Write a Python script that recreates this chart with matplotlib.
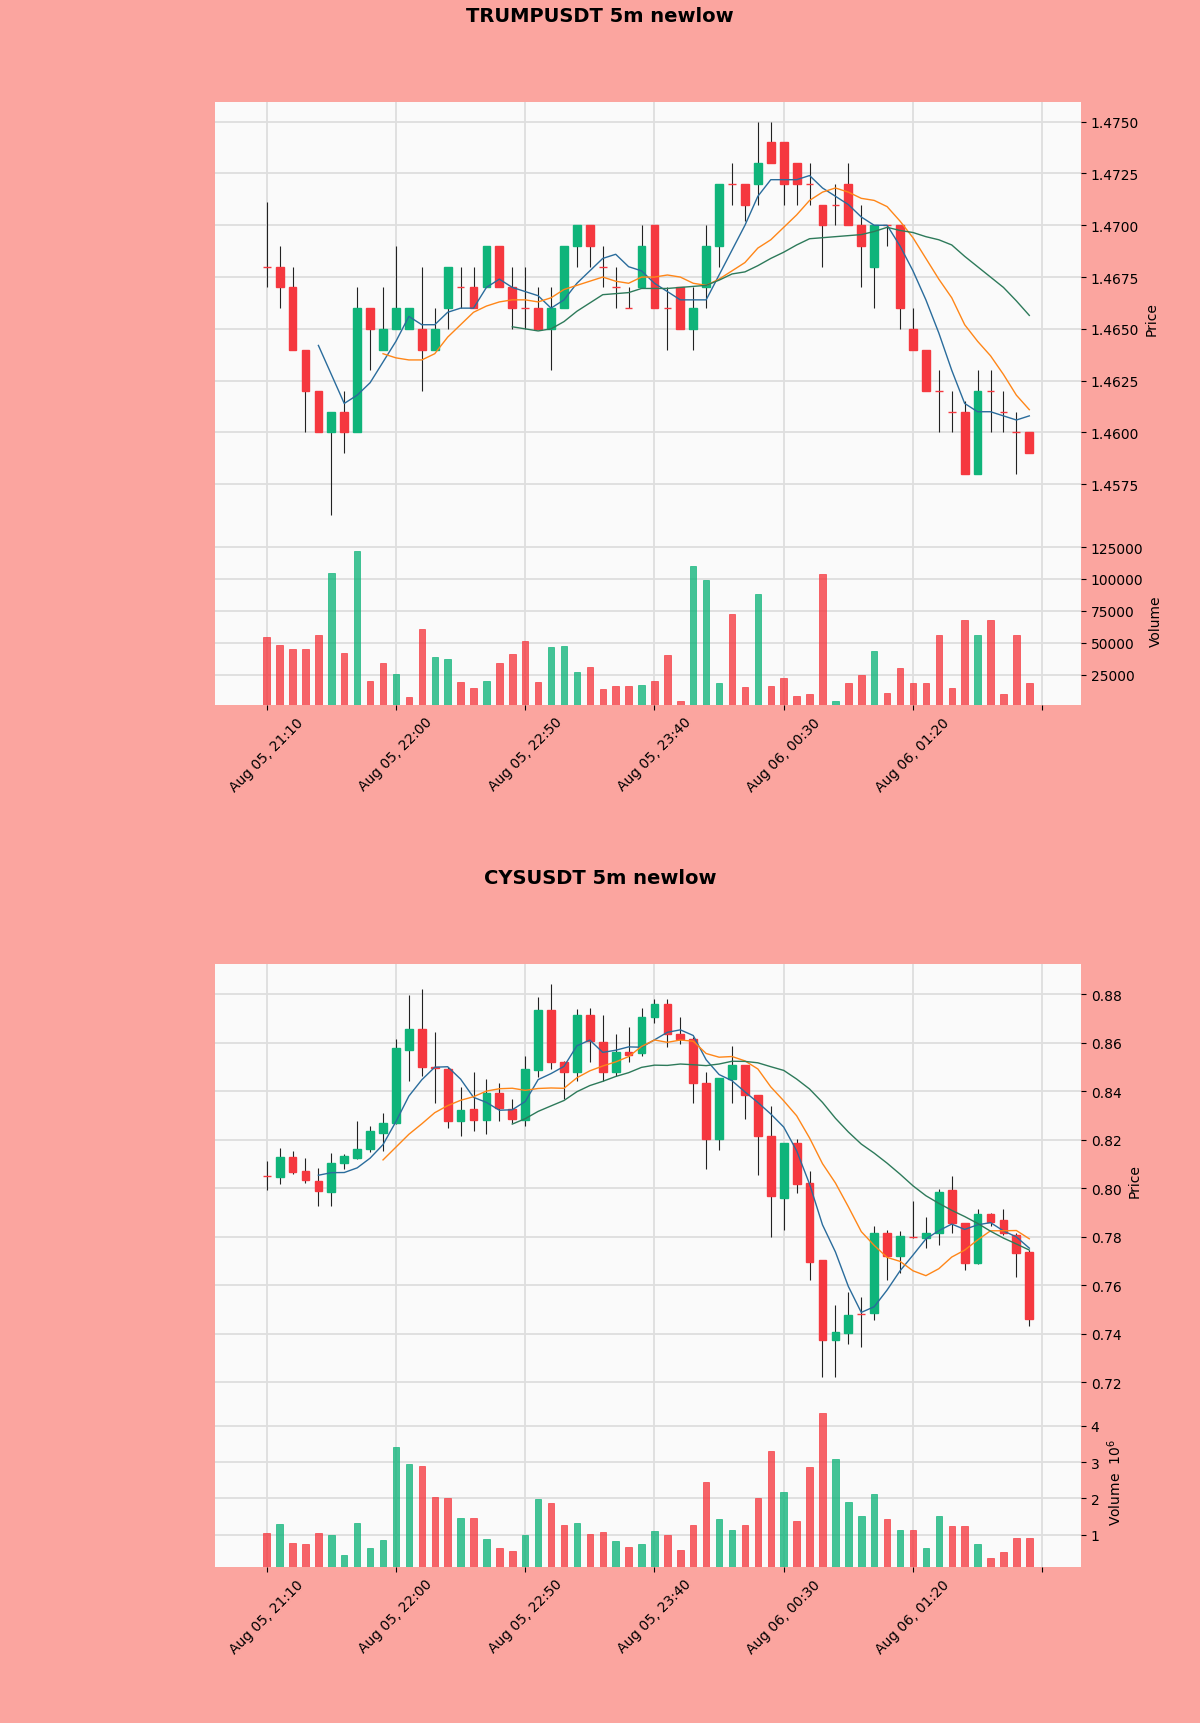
import numpy as np
import pandas as pd
import matplotlib
matplotlib.use("Agg")
import matplotlib.pyplot as plt
from matplotlib.ticker import FuncFormatter, FixedLocator, MultipleLocator

# ---------------- data ----------------
start_time = "2025-08-05 21:10"
n_bars = 60
times = pd.date_range(start_time, periods=n_bars, freq="5min")

trump_title = "TRUMPUSDT 5m newlow"
trump_open = [1.4680, 1.4680, 1.4670, 1.4640, 1.4620, 1.4600, 1.4610, 1.4600, 1.4660, 1.4640,
              1.4650, 1.4650, 1.4650, 1.4640, 1.4660, 1.4670, 1.4670, 1.4670, 1.4690, 1.4670,
              1.4660, 1.4660, 1.4650, 1.4660, 1.4690, 1.4700, 1.4680, 1.4670, 1.4660, 1.4670,
              1.4700, 1.4660, 1.4670, 1.4650, 1.4670, 1.4690, 1.4720, 1.4720, 1.4720, 1.4740,
              1.4740, 1.4730, 1.4720, 1.4710, 1.4710, 1.4720, 1.4700, 1.4680, 1.4700, 1.4700,
              1.4650, 1.4640, 1.4620, 1.4610, 1.4610, 1.4580, 1.4620, 1.4610, 1.4600, 1.4600]
trump_high = [1.4711, 1.4690, 1.4680, 1.4640, 1.4620, 1.4610, 1.4620, 1.4670, 1.4660, 1.4670,
              1.4690, 1.4660, 1.4680, 1.4660, 1.4680, 1.4680, 1.4680, 1.4690, 1.4690, 1.4680,
              1.4680, 1.4670, 1.4670, 1.4690, 1.4700, 1.4700, 1.4690, 1.4680, 1.4670, 1.4700,
              1.4700, 1.4670, 1.4670, 1.4670, 1.4700, 1.4720, 1.4730, 1.4720, 1.4750, 1.4750,
              1.4740, 1.4730, 1.4730, 1.4710, 1.4720, 1.4730, 1.4710, 1.4700, 1.4700, 1.4700,
              1.4660, 1.4640, 1.4630, 1.4620, 1.4615, 1.4630, 1.4630, 1.4620, 1.4610, 1.4600]
trump_low = [1.4670, 1.4660, 1.4640, 1.4600, 1.4600, 1.4560, 1.4590, 1.4600, 1.4630, 1.4640,
             1.4650, 1.4650, 1.4620, 1.4640, 1.4650, 1.4660, 1.4660, 1.4670, 1.4670, 1.4650,
             1.4650, 1.4650, 1.4630, 1.4660, 1.4680, 1.4680, 1.4670, 1.4660, 1.4660, 1.4670,
             1.4660, 1.4640, 1.4650, 1.4640, 1.4660, 1.4680, 1.4710, 1.4702, 1.4710, 1.4730,
             1.4710, 1.4710, 1.4710, 1.4680, 1.4700, 1.4700, 1.4670, 1.4660, 1.4690, 1.4650,
             1.4640, 1.4620, 1.4600, 1.4600, 1.4580, 1.4580, 1.4600, 1.4600, 1.4580, 1.4590]
trump_close = [1.4680, 1.4670, 1.4640, 1.4620, 1.4600, 1.4610, 1.4600, 1.4660, 1.4650, 1.4650,
               1.4660, 1.4660, 1.4640, 1.4650, 1.4680, 1.4670, 1.4660, 1.4690, 1.4670, 1.4660,
               1.4660, 1.4650, 1.4660, 1.4690, 1.4700, 1.4690, 1.4680, 1.4670, 1.4660, 1.4690,
               1.4660, 1.4660, 1.4650, 1.4660, 1.4690, 1.4720, 1.4720, 1.4710, 1.4730, 1.4730,
               1.4720, 1.4720, 1.4720, 1.4700, 1.4710, 1.4700, 1.4690, 1.4700, 1.4700, 1.4660,
               1.4640, 1.4620, 1.4620, 1.4610, 1.4580, 1.4620, 1.4620, 1.4610, 1.4600, 1.4590]
trump_volume = [54600, 48400, 44800, 44800, 55700, 104900, 41700, 122200, 20400, 34500,
                25300, 7500, 61100, 39200, 37600, 19600, 14400, 20400, 34500, 41500,
                51000, 19100, 46400, 47400, 26800, 30700, 13900, 16500, 16500, 17000,
                20400, 40700, 4100, 110500, 99500, 18300, 72400, 15500, 88100, 16200,
                22200, 8000, 9500, 104100, 4100, 18300, 24700, 43600, 10300, 29900,
                18300, 18300, 55700, 14400, 68000, 56400, 68000, 9500, 56400, 18300]

cys_title = "CYSUSDT 5m newlow"
cys_open = [0.8050, 0.8047, 0.8130, 0.8071, 0.8029, 0.7984, 0.8103, 0.8126, 0.8163, 0.8230,
            0.8271, 0.8572, 0.8658, 0.8500, 0.8492, 0.8278, 0.8329, 0.8282, 0.8395, 0.8329,
            0.8282, 0.8489, 0.8734, 0.8520, 0.8481, 0.8713, 0.8605, 0.8481, 0.8564, 0.8558,
            0.8706, 0.8761, 0.8637, 0.8616, 0.8434, 0.8205, 0.8451, 0.8509, 0.8384, 0.8216,
            0.7960, 0.8188, 0.8022, 0.7705, 0.7376, 0.7404, 0.7484, 0.7487, 0.7815, 0.7721,
            0.7800, 0.7794, 0.7815, 0.7994, 0.7859, 0.7694, 0.7895, 0.7870, 0.7808, 0.7739]
cys_high = [0.8112, 0.8167, 0.8154, 0.8126, 0.8085, 0.8147, 0.8140, 0.8278, 0.8256, 0.8312,
            0.8616, 0.8796, 0.8821, 0.8644, 0.8500, 0.8416, 0.8478, 0.8451, 0.8434, 0.8368,
            0.8547, 0.8789, 0.8844, 0.8527, 0.8741, 0.8743, 0.8713, 0.8637, 0.8666, 0.8743,
            0.8782, 0.8782, 0.8706, 0.8623, 0.8478, 0.8457, 0.8589, 0.8509, 0.8384, 0.8341,
            0.8188, 0.8202, 0.8071, 0.7705, 0.7518, 0.7573, 0.7553, 0.7843, 0.7829, 0.7823,
            0.7947, 0.7884, 0.7999, 0.8050, 0.7859, 0.7914, 0.7898, 0.7914, 0.7815, 0.7746]
cys_low = [0.7995, 0.8020, 0.8060, 0.8022, 0.7926, 0.7926, 0.8080, 0.8120, 0.8150, 0.8154,
           0.8264, 0.8444, 0.8464, 0.8354, 0.8250, 0.8216, 0.8236, 0.8223, 0.8278, 0.8268,
           0.8257, 0.8460, 0.8492, 0.8368, 0.8443, 0.8520, 0.8443, 0.8464, 0.8520, 0.8547,
           0.8680, 0.8582, 0.8596, 0.8354, 0.8078, 0.8160, 0.8354, 0.8285, 0.8057, 0.7801,
           0.7829, 0.7981, 0.7622, 0.7221, 0.7221, 0.7359, 0.7346, 0.7456, 0.7622, 0.7650,
           0.7796, 0.7753, 0.7767, 0.7816, 0.7663, 0.7690, 0.7845, 0.7809, 0.7636, 0.7431]
cys_close = [0.8050, 0.8130, 0.8067, 0.8036, 0.7988, 0.8103, 0.8133, 0.8163, 0.8236, 0.8268,
             0.8578, 0.8658, 0.8499, 0.8495, 0.8278, 0.8323, 0.8282, 0.8395, 0.8333, 0.8288,
             0.8492, 0.8734, 0.8520, 0.8481, 0.8713, 0.8609, 0.8481, 0.8564, 0.8550, 0.8706,
             0.8761, 0.8637, 0.8614, 0.8434, 0.8205, 0.8457, 0.8509, 0.8384, 0.8216, 0.7967,
             0.8188, 0.8020, 0.7698, 0.7376, 0.7408, 0.7477, 0.7484, 0.7815, 0.7721, 0.7804,
             0.7800, 0.7818, 0.7985, 0.7857, 0.7694, 0.7895, 0.7863, 0.7815, 0.7732, 0.7463]
cys_volume = [1.05e6, 1.30e6, 0.78e6, 0.75e6, 1.05e6, 0.98e6, 0.45e6, 1.32e6, 0.62e6, 0.85e6,
              3.42e6, 2.96e6, 2.89e6, 2.05e6, 2.01e6, 1.46e6, 1.46e6, 0.87e6, 0.64e6, 0.55e6,
              0.98e6, 1.98e6, 1.87e6, 1.27e6, 1.32e6, 1.03e6, 1.07e6, 0.83e6, 0.66e6, 0.75e6,
              1.09e6, 0.98e6, 0.57e6, 1.27e6, 2.44e6, 1.44e6, 1.12e6, 1.27e6, 2.00e6, 3.30e6,
              2.18e6, 1.39e6, 2.86e6, 4.36e6, 3.09e6, 1.89e6, 1.51e6, 2.12e6, 1.44e6, 1.12e6,
              1.12e6, 0.62e6, 1.51e6, 1.25e6, 1.24e6, 0.74e6, 0.36e6, 0.53e6, 0.91e6, 0.91e6]

ma_periods = [5, 10, 20]

# ---------------- style ----------------
BG = "#fba59f"
AX_BG = "#fafafa"
GRID = "#dedede"
UP = "#0fb47a"
DOWN = "#f5383f"
WICK = "#222222"
MA_COLORS = ["#2a6c9c", "#ff8618", "#2d7a5a"]

W, H = 1200, 1724
fig = plt.figure(figsize=(W / 100, H / 100), dpi=100, facecolor=BG)


def px_axes(left, top, right, bottom):
    return fig.add_axes([left / W, 1 - bottom / H, (right - left) / W, (bottom - top) / H])


def style_axis(ax):
    ax.set_facecolor(AX_BG)
    for s in ax.spines.values():
        s.set_visible(False)
    ax.yaxis.tick_right()
    ax.yaxis.set_label_position("right")
    ax.grid(True, color=GRID, linewidth=1.3)
    ax.set_axisbelow(True)
    ax.tick_params(axis="both", labelsize=10, colors="black", length=3.5, width=0.8)


def draw_chart(y_off, title, o, h, l, c, v, vol_fmt, vol_label, price_fmt):
    o, h, l, c, v = map(np.asarray, (o, h, l, c, v))
    x = np.arange(len(o))
    fig.text(0.5, 1 - (y_off + 16.5) / H, title, ha="center", va="center",
             fontsize=14, fontweight="bold")
    axp = px_axes(215, y_off + 103, 1081, y_off + 536)
    axv = px_axes(215, y_off + 536, 1081, y_off + 706)
    for ax in (axp, axv):
        style_axis(ax)
        ax.set_xlim(-4, 63)
        ax.xaxis.set_major_locator(FixedLocator(range(0, 61, 10)))

    up = c > o
    cols = np.where(up, UP, DOWN)
    axp.vlines(x, l, h, color=WICK, linewidth=0.8, zorder=2)
    axp.bar(x, np.abs(c - o), bottom=np.minimum(o, c), width=0.6, color=cols,
            edgecolor=cols, linewidth=1.0, zorder=3)
    closes = pd.Series(c)
    for p, col in zip(ma_periods, MA_COLORS):
        axp.plot(x, closes.rolling(p).mean(), color=col, linewidth=1.0, zorder=4)
    rng = h.max() - l.min()
    axp.set_ylim(l.min() - 0.05 * rng, h.max() + 0.05 * rng)
    axp.yaxis.set_major_formatter(FuncFormatter(price_fmt))
    axp.set_ylabel("Price", fontsize=10)
    axp.tick_params(axis="x", labelbottom=False, length=0)

    prev = np.concatenate([[np.inf], c[:-1]])
    vcols = np.where(c > prev, UP, DOWN)
    axv.bar(x, v, width=0.5, color=vcols, alpha=0.78, edgecolor=vcols, linewidth=0.6, zorder=3)
    axv.set_ylim(0.3 * v.min(), 1.1 * v.max())
    axv.yaxis.set_major_formatter(FuncFormatter(vol_fmt))
    axv.set_ylabel(vol_label, fontsize=10)
    labels = [times[i].strftime("%b %d, %H:%M") if i < len(times) else "" for i in range(0, 61, 10)]
    axv.set_xticklabels(labels, rotation=45, ha="center", va="top")
    return axp, axv


axp1, axv1 = draw_chart(0, trump_title, trump_open, trump_high, trump_low, trump_close,
                        trump_volume, lambda val, pos: f"{val:.0f}", "Volume",
                        lambda val, pos: f"{val:.4f}")
axp1.yaxis.set_major_locator(MultipleLocator(0.0025))
axv1.yaxis.set_major_locator(MultipleLocator(25000))

axp2, axv2 = draw_chart(862, cys_title, cys_open, cys_high, cys_low, cys_close,
                        cys_volume, lambda val, pos: f"{val / 1e6:g}", "Volume  $10^{6}$",
                        lambda val, pos: f"{val:.2f}")
axp2.yaxis.set_major_locator(MultipleLocator(0.02))
axv2.yaxis.set_major_locator(MultipleLocator(1e6))

fig.savefig("out.png", dpi=100, facecolor=BG)
